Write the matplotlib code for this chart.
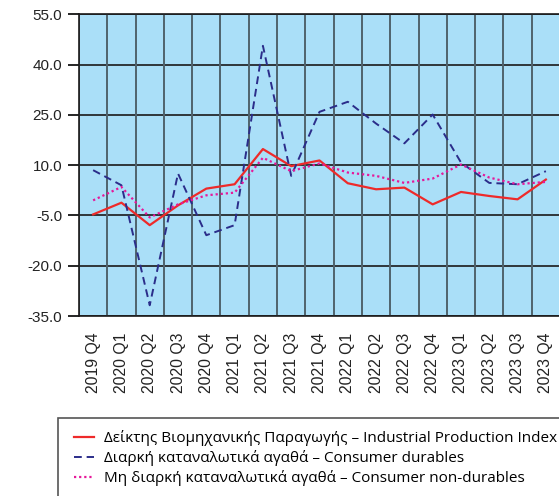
import matplotlib.pyplot as plt
from matplotlib.patches import Rectangle
import numpy as np

# Quarterly growth rates (% y/y)
quarters = ['2019 Q4', '2020 Q1', '2020 Q2', '2020 Q3', '2020 Q4', '2021 Q1',
            '2021 Q2', '2021 Q3', '2021 Q4', '2022 Q1', '2022 Q2', '2022 Q3',
            '2022 Q4', '2023 Q1', '2023 Q2', '2023 Q3', '2023 Q4']
industrial = [-4.7, -1.2, -7.9, -2.0, 3.0, 4.3, 14.8, 9.7, 11.4, 4.6, 2.8,
              3.3, -1.7, 2.0, 0.8, -0.2, 5.7]
durables = [8.5, 4.0, -31.8, 7.5, -10.9, -7.9, 45.6, 6.8, 25.9, 28.9, 22.4,
            16.5, 25.1, 10.8, 4.7, 4.3, 8.2]
non_durables = [-0.5, 3.5, -5.6, -1.7, 1.0, 1.8, 12.2, 8.2, 10.5, 7.8, 6.8,
                4.7, 6.0, 10.2, 6.3, 4.3, 5.0]

yticks = [55.0, 40.0, 25.0, 10.0, -5.0, -20.0, -35.0]

fig = plt.figure(figsize=(5.59, 4.96), dpi=100)
ax = fig.add_axes([0.1413, 0.3629, 0.8605, 0.6083])
ax.set_facecolor('#aadff8')

x = np.arange(len(quarters))
l1, = ax.plot(x, industrial, color='#ee2a2a', lw=1.6, ls='-')
l2, = ax.plot(x, durables, color='#2b2d8a', lw=1.4, ls=(0, (4, 2.5)))
l3, = ax.plot(x, non_durables, color='#e6189a', lw=1.6, ls=(0, (1, 1.3)))

ax.set_xlim(-0.5, len(quarters) - 0.5)
ax.set_ylim(-35, 55)
ax.set_yticks(yticks)
ax.set_yticklabels([f'{v:.1f}' for v in yticks], fontsize=11,
                   family='Liberation Sans', color='#222222')
ax.set_xticks(x)
ax.set_xticklabels(quarters, rotation=90, fontsize=11.3,
                   family='Liberation Sans', color='#222222')
ax.tick_params(axis='x', length=0, pad=12)
ax.tick_params(axis='y', length=8, width=1.2, pad=4)

# grid: black horizontal lines, grey vertical lines on category borders
for v in yticks:
    ax.axhline(v, color='#1a1a1a', lw=1.2, zorder=1)
for b in np.arange(len(quarters) + 1) - 0.5:
    ax.axvline(b, color='#4f636d', lw=1.4, zorder=1)
for s in ax.spines.values():
    s.set_color('#1a1a1a')
    s.set_linewidth(1.2)

leg = fig.legend([l1, l2, l3],
                 ['Δείκτης Βιομηχανικής Παραγωγής – Industrial Production Index',
                  'Διαρκή καταναλωτικά αγαθά – Consumer durables',
                  'Μη διαρκή καταναλωτικά αγαθά – Consumer non-durables'],
                 loc='upper left', bbox_to_anchor=(0.122, 0.143),
                 prop={'family': 'Open Sans', 'size': 11},
                 frameon=False, handlelength=1.37, handletextpad=0.6,
                 labelspacing=0.25, borderpad=0.35, borderaxespad=0)

# legend box runs off the right and bottom edges
fig.patches.append(Rectangle((0.1038, -0.1), 1.0, 0.2573, fill=False,
                             edgecolor='#555555', lw=1.2,
                             transform=fig.transFigure, figure=fig))

fig.savefig('out.png', dpi=100)
